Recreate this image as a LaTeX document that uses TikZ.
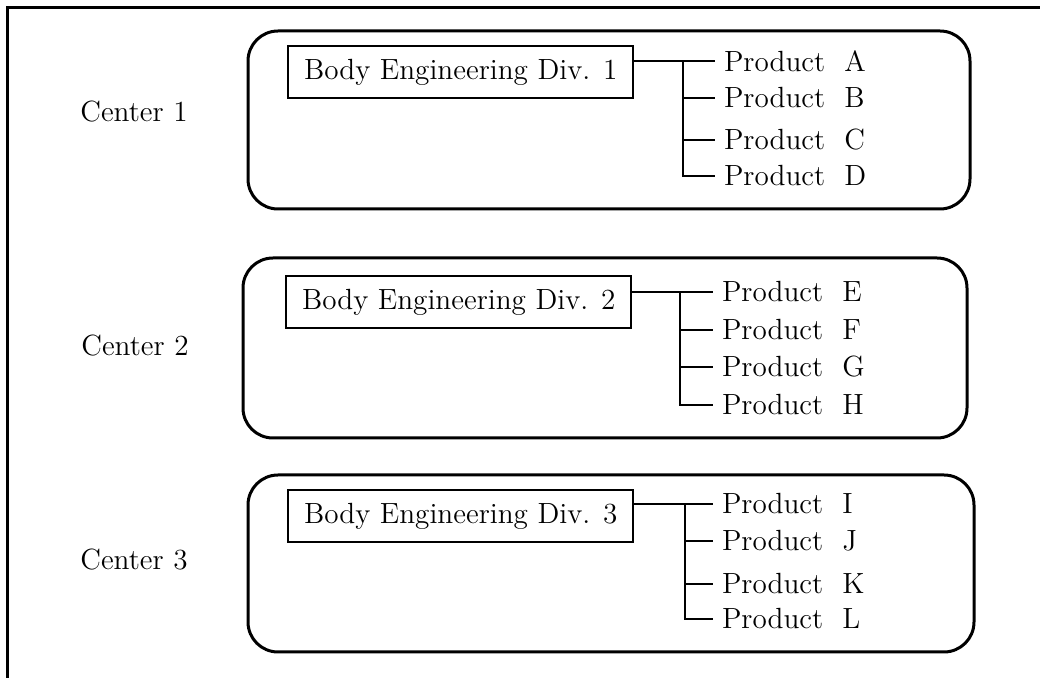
\documentclass[tikz,border=0pt]{standalone}
\usepackage{tikz}
\usetikzlibrary{calc}

\begin{document}
\begin{tikzpicture}[x=0.5pt,y=-0.5pt,line width=1pt,
    every node/.style={font=\fontsize{14.6}{17}\selectfont},
    roundbox/.style={line width=1.5pt,rounded corners=15pt},
    divbox/.style={draw,line width=1.2pt,anchor=west,minimum width=172.5pt,minimum height=26pt,inner sep=0pt},
    product/.style={anchor=west,inner xsep=4pt,inner ysep=0pt},
    centerlabel/.style={anchor=center}]
    \useasboundingbox (0,0) rectangle (1040,678);

    \coordinate (F1) at (7,678);
    \coordinate (F2) at (7,8);
    \coordinate (F3) at (1040,8);
    \draw[line width=1.5pt] (F1) -- (F2) -- (F3);

%center 1
    \coordinate (R1a) at (248,31);
    \coordinate (R1b) at (970,209);
    \coordinate (T1) at (683,61);
    \draw[roundbox] (R1a) rectangle (R1b);
    \node[centerlabel] (C1) at (134,112) {Center 1};
    \node[divbox] (D1) at (287,72) {Body Engineering Div. 1};
    \node[product] (PA) at (715,61)  {Product\ \ A};
    \node[product] (PB) at (715,98)  {Product\ \ B};
    \node[product] (PC) at (715,140) {Product\ \ C};
    \node[product] (PD) at (715,176) {Product\ \ D};
    \draw (D1.east |- T1) -- (PA.west);
    \draw (T1) |- (PD.west);
    \draw (T1 |- PB.west) -- (PB.west);
    \draw (T1 |- PC.west) -- (PC.west);

%center 2
    \coordinate (R2a) at (243,258);
    \coordinate (R2b) at (967,438);
    \coordinate (T2) at (680,292);
    \draw[roundbox] (R2a) rectangle (R2b);
    \node[centerlabel] (C2) at (135,346) {Center 2};
    \node[divbox] (D2) at (285,302) {Body Engineering Div. 2};
    \node[product] (PE) at (713,292) {Product\ \ E};
    \node[product] (PF) at (713,330) {Product\ \ F};
    \node[product] (PG) at (713,367) {Product\ \ G};
    \node[product] (PH) at (713,405) {Product\ \ H};
    \draw (D2.east |- T2) -- (PE.west);
    \draw (T2) |- (PH.west);
    \draw (T2 |- PF.west) -- (PF.west);
    \draw (T2 |- PG.west) -- (PG.west);

%center 3
    \coordinate (R3a) at (248,475);
    \coordinate (R3b) at (974,652);
    \coordinate (T3) at (685,504);
    \draw[roundbox] (R3a) rectangle (R3b);
    \node[centerlabel] (C3) at (134,560) {Center 3};
    \node[divbox] (D3) at (287,516) {Body Engineering Div. 3};
    \node[product] (PI) at (713,504) {Product\ \ I};
    \node[product] (PJ) at (713,541) {Product\ \ J};
    \node[product] (PK) at (713,584) {Product\ \ K};
    \node[product] (PL) at (713,619) {Product\ \ L};
    \draw (D3.east |- T3) -- (PI.west);
    \draw (T3) |- (PL.west);
    \draw (T3 |- PJ.west) -- (PJ.west);
    \draw (T3 |- PK.west) -- (PK.west);

\end{tikzpicture}
\end{document}
